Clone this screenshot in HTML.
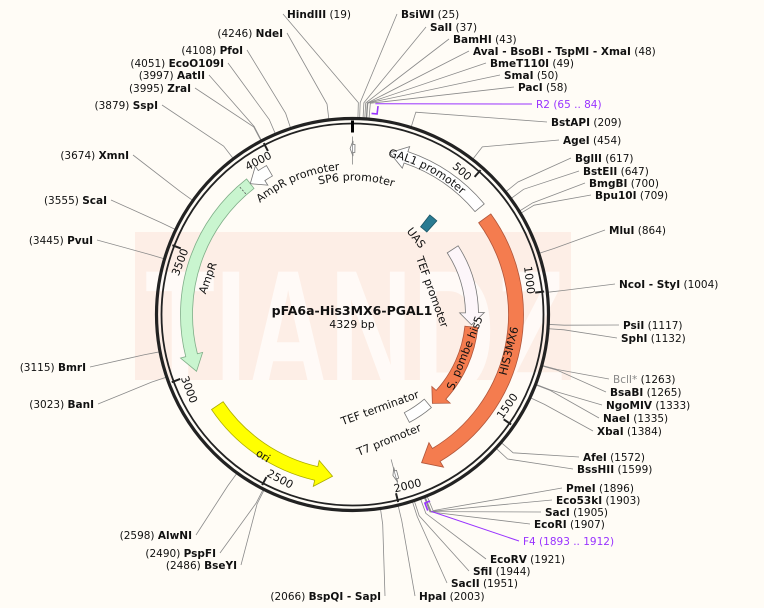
<!DOCTYPE html>
<html><head><meta charset="utf-8">
<style>
body{margin:0;background:#fffcf6;}
svg{display:block;font-family:"DejaVu Sans","Liberation Sans",sans-serif;}
.lbl{font-size:10.5px;fill:#111;}
.lbl .n{font-weight:bold;}
</style></head>
<body>
<svg id="map" width="764" height="608" viewBox="0 0 764 608" xmlns="http://www.w3.org/2000/svg">
<defs><clipPath id="bandclip"><rect x="135" y="232" width="436" height="148"/></clipPath></defs>
<rect x="0" y="0" width="764" height="608" fill="#fffcf6"/>
<rect x="135" y="232" width="436" height="148" fill="#fdeee6"/>
<text clip-path="url(#bandclip)" x="145" y="392" textLength="420" lengthAdjust="spacingAndGlyphs" font-size="175" font-weight="bold" fill="#fffaf7" font-family="Liberation Sans, sans-serif">TIANDZ</text>
<g id="lines"></g>
<g id="ring"></g>
<g id="feats"></g>
<g id="labels"></g>
<text x="352" y="315" text-anchor="middle" font-size="12.5" font-weight="bold" fill="#111">pFA6a-His3MX6-PGAL1</text>
<text x="352" y="328" text-anchor="middle" font-size="11" fill="#111">4329 bp</text>
</svg>
<script>
// ---- data ----
const totalBp = 4329;
const siteNames = ["HindIII","BsiWI","SalI","BamHI","AvaI - BsoBI - TspMI - XmaI","BmeT110I","SmaI","PacI","BstAPI","AgeI","BglII","BstEII","BmgBI","Bpu10I","MluI","NcoI - StyI","PsiI","SphI","BclI*","BsaBI","NgoMIV","NaeI","XbaI","AfeI","BssHII","PmeI","Eco53kI","SacI","EcoRI","EcoRV","SfiI","SacII","HpaI",
 "BspQI - SapI","BseYI","PspFI","AlwNI","BanI","BmrI","PvuI","ScaI","XmnI","SspI","ZraI","AatII","EcoO109I","PfoI","NdeI"];
const sitePos = [19,25,37,43,48,49,50,58,209,454,617,647,700,709,864,1004,1117,1132,1263,1265,1333,1335,1384,1572,1599,1896,1903,1905,1907,1921,1944,1951,2003,
 2066,2486,2490,2598,3023,3115,3445,3555,3674,3879,3995,3997,4051,4108,4246];
const primerNames = ["R2","F4"];
const primerStart = [65,1893];
const primerEnd = [84,1912];
const featNames = ["AmpR","AmpR promoter","GAL1 promoter","HIS3MX6","ori","S. pombe his5","TEF promoter","SP6 promoter","T7 promoter"];
const featStart = [3872,3968,601,649,2838,1154,685,10,1975];
const featEnd = [3006,3872,156,1864,2249,1660,1142,-10,1995];
const tickValues = [500,1000,1500,2000,2500,3000,3500,4000];

// ---- layout ----
const cx=352.5, cy=314.5;
const NS="http://www.w3.org/2000/svg";
function ang(bp){return bp/totalBp*2*Math.PI;}
function pt(bp,r){const a=ang(bp);return [cx+r*Math.sin(a),cy-r*Math.cos(a)];}
function mk(tag,attrs,parent){const e=document.createElementNS(NS,tag);for(const k in attrs)e.setAttribute(k,attrs[k]);parent.appendChild(e);return e;}
const gL=document.getElementById('lines'),gR=document.getElementById('ring'),gF=document.getElementById('feats'),gT=document.getElementById('labels');

const siteLayout = [[287,14,1],[401,14,1],[430,27,1],[453,39,1],[473,51,1],[490,63,1],[504,75,1],[518,87,1],[551,122,1],[563,140,1],[575,158,1],[583,171,1],[589,183,1],[595,195,1],[609,230,1],[619,284,1],[623,325,1],[621,338,1],[613,379,1],[610,392,1],[606,405,1],[603,418,1],[597,431,1],[583,457,1],[577,469,1],[566,488,1],[556,500,1],[545,512,1],[534,524,1],[490,559,1],[473,571,1],[451,583,1],[419,596,1],
 [381,596,-1],[237,565,-1],[216,553,-1],[192,535,-1],[94,404,-1],[86,367,-1],[93,240,-1],[107,200,-1],[129,155,-1],[158,105,-1],[191,88,-1],[205,75,-1],[224,63,-1],[243,50,-1],[283,33,-1]];
const primerLayout=[[536,104],[523,541]];

siteNames.forEach((nm,i)=>{
  const [lx,ly,side]=siteLayout[i];
  const p1=pt(sitePos[i],197), p2=pt(sitePos[i],212);
  const ex = side>0 ? lx-4 : lx+4;
  const pl=mk('polyline',{points:`${p1[0]},${p1[1]} ${p2[0]},${p2[1]} ${ex},${ly}`,fill:'none',stroke:'#8a8a8a','stroke-width':'0.8'},gL);
  
  
  const t=mk('text',{x:lx,y:ly+4,class:'lbl','text-anchor':side>0?'start':'end'},gT);
  
  
  const gray = nm.indexOf('*')>=0;
  if(side>0){
    const a=mk('tspan',{class:'n'},t);a.textContent=nm; if(gray)a.setAttribute('style','fill:#888;font-weight:normal');
    const b=mk('tspan',{},t);b.textContent='  ('+sitePos[i]+')';
  } else {
    const b=mk('tspan',{},t);b.textContent='('+sitePos[i]+')  ';
    const a=mk('tspan',{class:'n'},t);a.textContent=nm;
  }
});
primerNames.forEach((nm,i)=>{
  const s=pt(primerStart[i],202), e=pt(primerEnd[i],202);
  const br=mk('path',{d:`M${s[0]},${s[1]} A202,202 0 0 1 ${e[0]},${e[1]} L${pt(primerEnd[i],210)[0]},${pt(primerEnd[i],210)[1]}`,fill:'none',stroke:'#9933ff','stroke-width':'1.6'},gL);
  
  
  const m=pt((primerStart[i]+primerEnd[i])/2,212), [lx,ly]=primerLayout[i];
  const ln=mk('polyline',{points:`${m[0]},${m[1]} ${lx-4},${ly}`,fill:'none',stroke:'#9933ff','stroke-width':'1'},gL);
  
  
  const t=mk('text',{x:lx,y:ly+4,class:'lbl',style:'fill:#9933ff'},gT);
  
  
  t.textContent=nm+'  ('+primerStart[i]+' .. '+primerEnd[i]+')';
});

mk('circle',{cx,cy,r:196,fill:'none',stroke:'#222','stroke-width':'3.2'},gR);
mk('circle',{cx,cy,r:191,fill:'none',stroke:'#222','stroke-width':'1.8'},gR);
{const a=pt(0,182),b=pt(0,194);const l=mk('line',{x1:a[0],y1:a[1],x2:b[0],y2:b[1],stroke:'#000','stroke-width':'3'},gR);
 }
tickValues.forEach(v=>{
  const a=pt(v,184),b=pt(v,193);
  const l=mk('line',{x1:a[0],y1:a[1],x2:b[0],y2:b[1],stroke:'#222','stroke-width':'2'},gR);
  
  
  const deg=v/totalBp*360;
  const p=pt(v-50,180);
  let rot = (deg>95 && deg<265)? deg-180 : (deg>=265? deg-360:deg);
  const t=mk('text',{x:p[0],y:p[1],'font-size':'11',fill:'#111','text-anchor':'middle','dominant-baseline':'central',transform:`rotate(${rot} ${p[0]} ${p[1]})`},gR);
  
  
  t.textContent=v;
});

const featStyle={ "AmpR":["#c9f5cf","#7fae88",160,172],"AmpR promoter":["#ffffff","#777",160,172],"GAL1 promoter":["#ffffff","#777",160,172],
 "HIS3MX6":["#f47c4f","#b0553a",156,171],"ori":["#ffff00","#aaaa00",156,170],"S. pombe his5":["#f47c4f","#b0553a",113,126],
 "TEF promoter":["#fdf6fa","#777",113,126],"SP6 promoter":["#ffffff","#777",162,170],"T7 promoter":["#ffffff","#777",162,170]};
function arrowPath(s,e,r1,r2){
  const dir = Math.sign(e-s)||1;
  const span=Math.abs(e-s);
  const head=Math.min(span*0.6, 70);
  const hb=e-dir*head;
  const rm=(r1+r2)/2, ext=(r2-r1)*0.45;
  const P=(bp,r)=>pt(bp,r).join(',');
  const sw=dir>0?1:0, sw2=dir>0?0:1;
  return `M${P(s,r2)} A${r2},${r2} 0 0 ${sw} ${P(hb,r2)} L${P(hb,r2+ext)} L${P(e,rm)} L${P(hb,r1-ext)} L${P(hb,r1)} A${r1},${r1} 0 0 ${sw2} ${P(s,r1)} Z`;
}
featNames.forEach((nm,i)=>{
  const st=featStyle[nm];
  const p=mk('path',{d:arrowPath(featStart[i],featEnd[i],st[2],st[3]),fill:st[0],stroke:st[1],'stroke-width':'0.8'},gF);
  
  
});
function boxPath(s,e,r1,r2){const P=(bp,r)=>pt(bp,r).join(',');return `M${P(s,r2)} A${r2},${r2} 0 0 1 ${P(e,r2)} L${P(e,r1)} A${r1},${r1} 0 0 0 ${P(s,r1)} Z`;}
{const p=mk('path',{d:boxPath(455,505,111,126),fill:'#2a7b92',stroke:'#1d5666','stroke-width':'0.8'},gF);
 }
{const p=mk('path',{d:boxPath(1680,1830,111,122),fill:'#ffffff',stroke:'#777','stroke-width':'0.8'},gF);
 }
{const a=pt(3830,161),b=pt(3830,171);const l=mk('line',{x1:a[0],y1:a[1],x2:b[0],y2:b[1],stroke:'#555','stroke-width':'0.8','stroke-dasharray':'2,1.5'},gF);
 }
[[0,150,178,"sp6-leader"],[1985,150,176,"t7-leader"]].forEach(d=>{const a=pt(d[0],d[1]),b=pt(d[0],d[2]);
 const l=mk('line',{x1:a[0],y1:a[1],x2:b[0],y2:b[1],stroke:'#888','stroke-width':'0.8'},gF);
 });

function curved(name,txt,bp,r,fs){
  const a1=pt(bp-700,r),a2=pt(bp+700,r);
  const id='cp'+name;
  mk('path',{id,d:`M${a1[0]},${a1[1]} A${r},${r} 0 0 1 ${a2[0]},${a2[1]}`,fill:'none'},gF);
  const t=mk('text',{'font-size':fs,fill:'#111'},gT);
  
  
  const tp=mk('textPath',{href:'#'+id,startOffset:'50%','text-anchor':'middle'},t);
  tp.textContent=txt;
}
curved('ampr-promoter-label','AmpR promoter',4060,145,11);
curved('sp6-promoter-label','SP6 promoter',20,134,11);
curved('gal1-promoter-label','GAL1 promoter',330,162,11);

function rlab(name,txt,x,y,rot,fs){
  const t=mk('text',{x,y,'font-size':fs,fill:'#111','text-anchor':'middle','dominant-baseline':'central',transform:`rotate(${rot} ${x} ${y})`},gT);
  
  
  t.textContent=txt;
}
rlab('ampr-label','AmpR',208,278,-70,11);
rlab('his3mx6-label','HIS3MX6',509,351,-76,11);
rlab('s-pombe-his5-label','S. pombe his5',465,353,-68,11);
rlab('ori-label','ori',263,456,32,11);
rlab('uas-label','UAS',416,238,52,11);
rlab('tef-promoter-label','TEF promoter',432,292,70,11);
rlab('tef-terminator-label','TEF terminator',380,408,-20,11);
rlab('t7-promoter-label','T7 promoter',389,440,-22,11);
</script>
</body></html>
